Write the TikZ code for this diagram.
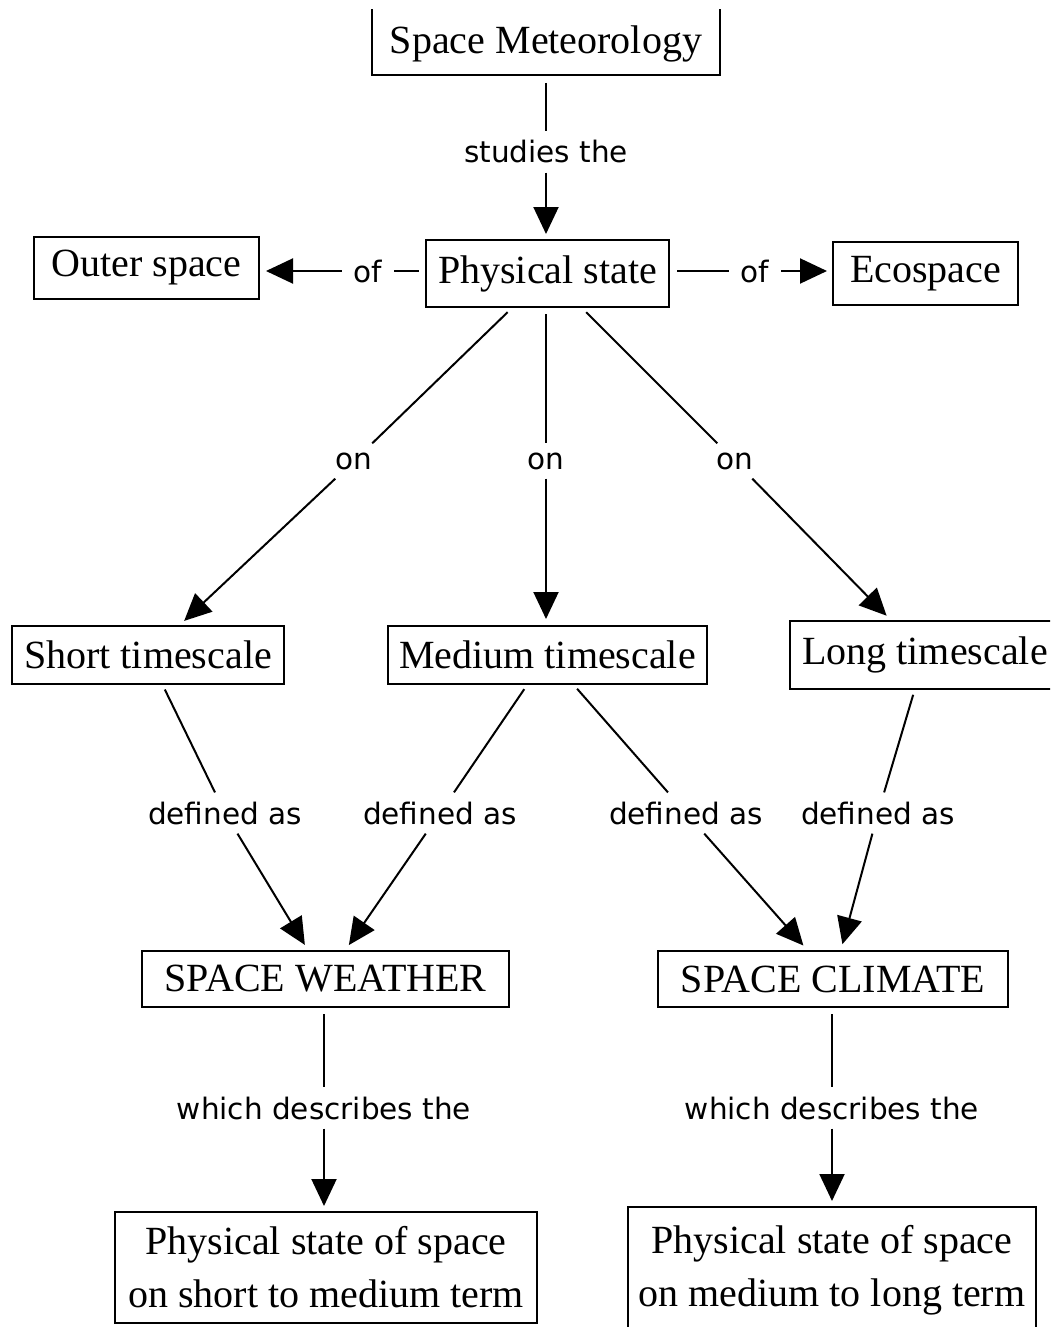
\documentclass[tikz,border=0pt]{standalone}
\usepackage{fontspec}
\setmainfont{Liberation Serif}
\newfontfamily\lblfont{DejaVu Sans}
\usetikzlibrary{arrows.meta}
\begin{document}
\begin{tikzpicture}[x=1pt,y=-1pt,
  box/.style={draw, line width=2pt, inner sep=0pt, align=center, font=\fontsize{40}{53}\selectfont},
  lbl/.style={inner xsep=12pt, inner ysep=9pt, font=\lblfont\fontsize{29.5}{34}\selectfont},
  ln/.style={line width=2pt},
  arr/.style={line width=2pt, -{Triangle[width=25pt,length=27pt]}}]
\useasboundingbox (0,0) rectangle (1050,1327);
\fill[white] (0,0) rectangle (1050,1327);
\clip (0,10) rectangle (1050,1327);
% boxes
\node[box, minimum width=348pt, minimum height=74pt] (sm) at (546,38) {\raisebox{-16pt}[0pt][0pt]{Space Meteorology}};
\node[box, minimum width=243pt, minimum height=67pt] (ps) at (547.5,273.5) {Physical state};
\node[box, minimum width=225pt, minimum height=62pt] (os) at (146.5,268) {Outer space};
\node[box, minimum width=185pt, minimum height=63pt] (es) at (925.5,273.5) {Ecospace};
\node[box, minimum width=272pt, minimum height=58pt] (st) at (148,655) {Short timescale};
\node[box, minimum width=319pt, minimum height=58pt] (mt) at (547.5,655) {Medium timescale};
\node[box, minimum width=270pt, minimum height=68pt] (lt) at (925,655) {Long timescale};
\node[box, minimum width=367pt, minimum height=56pt] (sw) at (325.5,979) {SPACE WEATHER};
\node[box, minimum width=350pt, minimum height=56pt] (sc) at (833,979) {SPACE CLIMATE};
\node[box, minimum width=422pt, minimum height=111pt] (bl) at (326,1267.5) {Physical state of space\\on short to medium term};
\node[box, minimum width=408pt, minimum height=126pt] (br) at (832,1270) {Physical state of space\\on medium to long term};
% labels
\node[lbl] (studies) at (546,152) {studies the};
\node[lbl] (ofL) at (368,271) {of};
\node[lbl] (ofR) at (755,271) {of};
\node[lbl] (onL) at (354,461) {on};
\node[lbl] (onM) at (546,461) {on};
\node[lbl] (onR) at (735,461) {on};
\node[lbl] (d1) at (225,813) {defined as};
\node[lbl] (d2) at (440,813) {defined as};
\node[lbl] (d3) at (686,813) {defined as};
\node[lbl] (d4) at (878,813) {defined as};
\node[lbl] (w1) at (324,1108) {which describes the};
\node[lbl] (w2) at (832,1108) {which describes the};
% connectors
\draw[ln, shorten <=7pt] (sm.south) -- (studies);
\draw[arr, shorten >=5pt] (studies) -- (ps.north -| studies);
\draw[ln, shorten >=6pt] (ofL) -- (ps.west |- ofL);
\draw[arr, shorten >=6pt] (ofL) -- (os.east |- ofL);
\draw[ln, shorten <=7pt] (ps.east |- ofR) -- (ofR);
\draw[arr, shorten >=5pt] (ofR) -- (es.west |- ofR);
\draw[ln, shorten <=6pt] (ps) -- (onL);
\draw[arr, shorten >=6pt] (onL) -- (st);
\draw[ln, shorten <=6pt] (ps.south -| onM) -- (onM);
\draw[arr, shorten >=6pt] (onM) -- (mt.north -| onM);
\draw[ln, shorten <=6pt] (ps) -- (onR);
\draw[arr, shorten >=6pt] (onR) -- (lt);
\draw[ln, shorten <=5pt] (st) -- (d1);
\draw[arr, shorten >=6pt] (d1) -- (sw);
\draw[ln, shorten <=5pt] (mt) -- (d2);
\draw[arr, shorten >=6pt] (d2) -- (sw);
\draw[ln, shorten <=5pt] (mt) -- (d3);
\draw[arr, shorten >=6pt] (d3) -- (sc);
\draw[ln, shorten <=5pt] (lt) -- (d4);
\draw[arr, shorten >=6pt] (d4) -- (sc);
\draw[ln, shorten <=6pt] (sw.south -| w1) -- (w1);
\draw[arr, shorten >=5pt] (w1) -- (bl.north -| w1);
\draw[ln, shorten <=6pt] (sc.south -| w2) -- (w2);
\draw[arr, shorten >=5pt] (w2) -- (br.north -| w2);
\end{tikzpicture}
\end{document}
